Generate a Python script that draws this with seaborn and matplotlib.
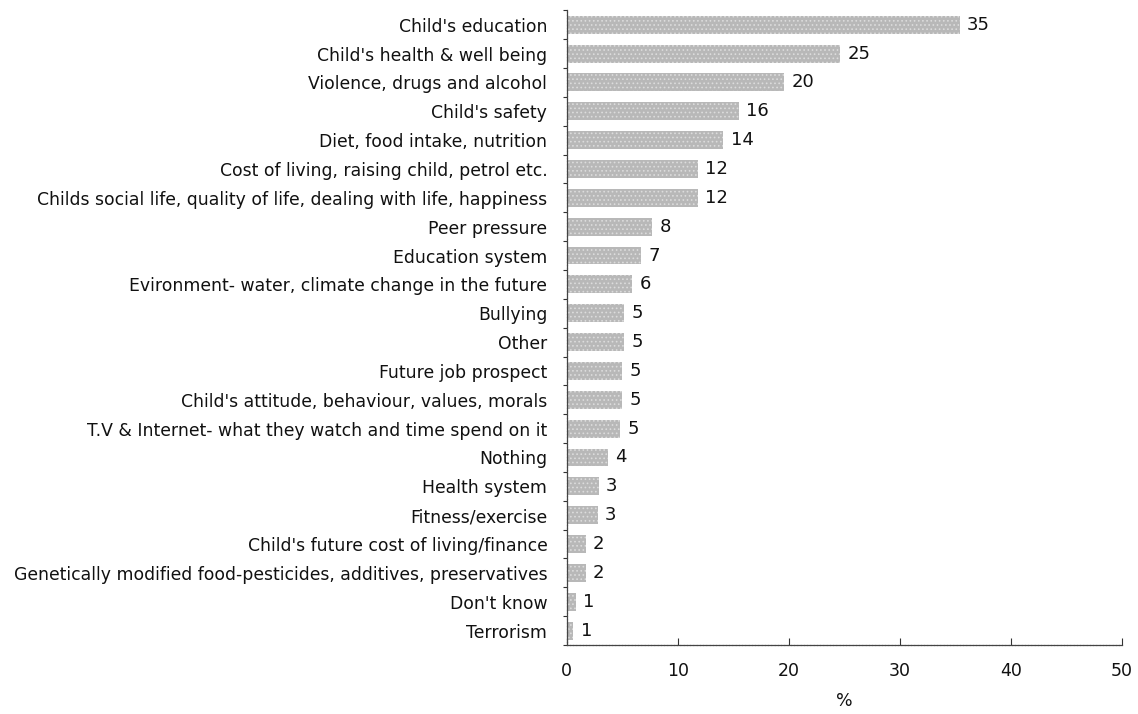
import matplotlib
matplotlib.use("Agg")
import matplotlib.pyplot as plt
import seaborn as sns
import pandas as pd
import numpy as np

categories = [
    "Child's education",
    "Child's health & well being",
    "Violence, drugs and alcohol",
    "Child's safety",
    "Diet, food intake, nutrition",
    "Cost of living, raising child, petrol etc.",
    "Childs social life, quality of life, dealing with life, happiness",
    "Peer pressure",
    "Education system",
    "Evironment- water, climate change in the future",
    "Bullying",
    "Other",
    "Future job prospect",
    "Child's attitude, behaviour, values, morals",
    "T.V & Internet- what they watch and time spend on it",
    "Nothing",
    "Health system",
    "Fitness/exercise",
    "Child's future cost of living/finance",
    "Genetically modified food-pesticides, additives, preservatives",
    "Don't know",
    "Terrorism",
]
values = [35.4, 24.6, 19.6, 15.5, 14.1, 11.8, 11.8, 7.7, 6.7, 5.9, 5.2, 5.2,
          5.0, 5.0, 4.8, 3.7, 2.9, 2.8, 1.7, 1.7, 0.8, 0.6]
value_labels = ["35", "25", "20", "16", "14", "12", "12", "8", "7", "6", "5", "5",
                "5", "5", "5", "4", "3", "3", "2", "2", "1", "1"]
x_ticks = [0, 10, 20, 30, 40, 50]

df = pd.DataFrame({"cat": categories, "val": values})

sns.set_theme(style="white")
plt.rcParams['font.family'] = ['DejaVu Sans']
plt.rcParams['xtick.direction'] = 'in'
plt.rcParams['ytick.direction'] = 'out'
plt.rcParams['hatch.linewidth'] = 0.7

fig = plt.figure(figsize=(11.38, 7.14), dpi=100)
ax = fig.add_axes([0.498, 0.0966, 0.488, 0.889])

sns.barplot(data=df, x="val", y="cat", orient="h", color="#b8b8b8",
            width=0.62, ax=ax, saturation=1)
for p in ax.patches:
    p.set_edgecolor("#dcdcdc")
    p.set_linewidth(0)
    p.set_hatch("....")

ax.set_xlim(0, 50)
ax.set_ylim(len(categories) - 0.5, -0.5)
ax.set_xticks(x_ticks)
ax.set_xticklabels([str(t) for t in x_ticks], fontsize=12.5, color="#111")
ax.set_xlabel("%", fontsize=12.5, color="#111", labelpad=9)
ax.set_ylabel("")
ax.set_yticks(range(len(categories)))
ax.set_yticklabels(categories, fontsize=12.4, color="#111")
ax.tick_params(axis="y", which="major", left=False, length=0, pad=14)
ax.set_yticks(np.arange(-0.5, len(categories), 1), minor=True)
ax.tick_params(axis="y", which="minor", left=True, length=3, direction="out",
               color="#333", width=0.8)
ax.tick_params(axis="x", which="major", bottom=True, length=5, direction="in",
               color="#333", width=0.8, pad=12)

for s in ["top", "right"]:
    ax.spines[s].set_visible(False)
for s in ["left", "bottom"]:
    ax.spines[s].set_color("#444")
    ax.spines[s].set_linewidth(0.9)
    ax.spines[s].set_linestyle((0, (2, 0.6)))

for i, (v, lab) in enumerate(zip(values, value_labels)):
    ax.text(v + 0.65, i, lab, va="center", ha="left", fontsize=13, color="#111")

fig.savefig("out.png", dpi=100)
